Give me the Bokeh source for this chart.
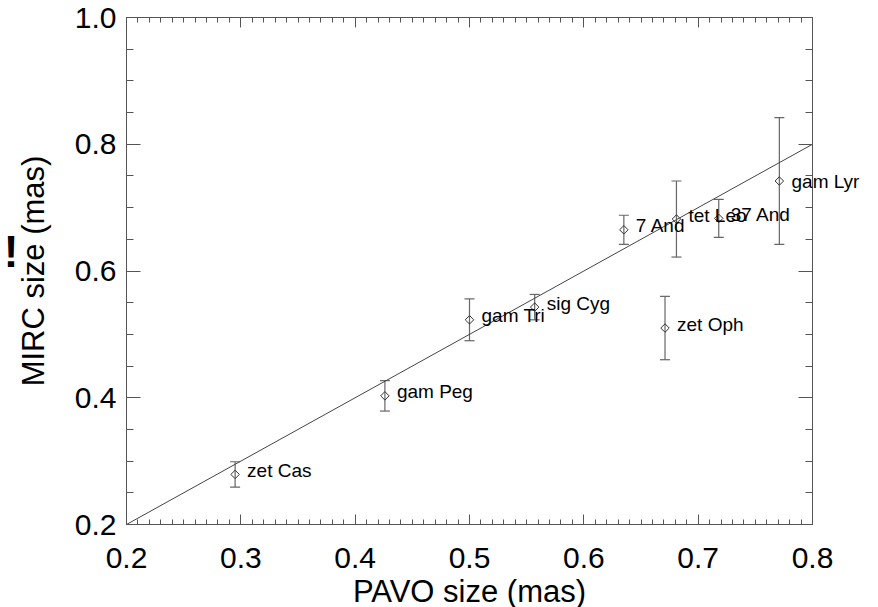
import math
from bokeh.plotting import figure
from bokeh.models import (Range1d, LinearAxis, SingleIntervalTicker, FixedTicker, Whisker, TeeHead,
                          ColumnDataSource, PrintfTickFormatter)
from bokeh.core.properties import value
from bokeh.embed import file_html
from bokeh.resources import INLINE

# ---- data ----
stars = ["zet Cas", "gam Peg", "gam Tri", "sig Cyg", "zet Oph", "7 And", "tet Leo", "37 And", "gam Lyr"]
pavo = [0.295, 0.426, 0.500, 0.557, 0.671, 0.635, 0.681, 0.718, 0.771]
mirc = [0.279, 0.403, 0.523, 0.543, 0.510, 0.665, 0.682, 0.683, 0.742]
mirc_err = [0.020, 0.024, 0.033, 0.020, 0.050, 0.023, 0.060, 0.030, 0.100]
line_x = [0.2, 0.8]
line_y = [0.2, 0.8]
x_range = (0.2, 0.8)
y_range = (0.2, 1.0)
x_label = "PAVO size (mas)"
y_label = "MIRC size (mas)"
stray_mark = "!"          # stray glyph cut off at the left edge of the source crop
stray_mark_y = 0.63

FONT = "Liberation Sans"
AX = "#555555"

inside = [i for i in range(len(stars)) if stars[i] != "gam Lyr"]
src = ColumnDataSource(dict(
    x=pavo, y=mirc,
    lo=[m - e for m, e in zip(mirc, mirc_err)],
    hi=[m + e for m, e in zip(mirc, mirc_err)],
))
lab_src = ColumnDataSource(dict(
    x=[pavo[i] for i in inside], y=[mirc[i] for i in inside], name=[stars[i] for i in inside],
))

p = figure(width=863, height=620, output_backend="svg", toolbar_location=None,
           x_range=Range1d(*x_range), y_range=Range1d(*y_range),
           x_axis_location=None, y_axis_location=None,
           min_border_left=123, min_border_right=51, min_border_top=17, min_border_bottom=96)
p.xgrid.visible = False
p.ygrid.visible = False
p.outline_line_color = AX
p.background_fill_color = "white"
p.border_fill_color = "white"


def make_axis(kind, labels):
    if kind == "x":
        t = SingleIntervalTicker(interval=0.1, num_minor_ticks=10)
        ax = LinearAxis(ticker=t, major_tick_in=10, minor_tick_in=5)
    else:
        t = SingleIntervalTicker(interval=0.2, num_minor_ticks=4)
        ax = LinearAxis(ticker=t, major_tick_in=14, minor_tick_in=7)
    ax.major_tick_out = 0
    ax.minor_tick_out = 0
    ax.axis_line_color = AX
    ax.major_tick_line_color = AX
    ax.minor_tick_line_color = AX
    ax.formatter = PrintfTickFormatter(format="%.1f")
    if labels:
        ax.major_label_text_font = FONT
        ax.major_label_text_font_size = "30px"
        ax.major_label_text_color = "black"
        ax.axis_label_text_font = FONT
        ax.axis_label_text_font_size = "31px"
        ax.axis_label_text_font_style = "normal"
        ax.axis_label_text_color = "black"
    else:
        ax.major_label_text_font_size = "0px"
        ax.major_label_standoff = 0
    return ax

bx = make_axis("x", True)
bx.major_label_standoff = 23
bx.axis_label = x_label
bx.axis_label_standoff = 3
bx.axis_label_text_baseline = "middle"
p.add_layout(bx, "below")

ly = make_axis("y", True)
ly.major_label_standoff = 10
ly.axis_label = y_label
ly.axis_label_standoff = 21
p.add_layout(ly, "left")

# stray mark at the far left, carried by an outer left axis at its data height
sx = LinearAxis(ticker=FixedTicker(ticks=[stray_mark_y], minor_ticks=[]),
                major_label_overrides={stray_mark_y: stray_mark},
                axis_line_color=None, major_tick_line_color=None, minor_tick_line_color=None,
                major_tick_in=0, major_tick_out=0, minor_tick_in=0, minor_tick_out=0,
                major_label_standoff=-6, major_label_text_font=FONT,
                major_label_text_font_style="bold",
                major_label_text_font_size="44px", major_label_text_color="black")
p.add_layout(sx, "left")

p.add_layout(make_axis("x", False), "above")
p.add_layout(make_axis("y", False), "right")

# extra right axis carrying the "gam Lyr" name at its data height
ry = LinearAxis(ticker=FixedTicker(ticks=[mirc[-1]], minor_ticks=[]),
                major_label_overrides={mirc[-1]: stars[-1]},
                axis_line_color=None, major_tick_line_color=None, minor_tick_line_color=None,
                major_tick_in=0, major_tick_out=0, minor_tick_in=0, minor_tick_out=0,
                major_label_standoff=-21, major_label_text_font=FONT,
                major_label_text_font_size="19px", major_label_text_color="black")
p.add_layout(ry, "right")

# one-to-one line
p.line(line_x, line_y, line_color="#444444", line_width=1)

# error bars
wh = Whisker(source=src, base="x", lower="lo", upper="hi", dimension="height",
             line_color="#666666", line_width=1.2,
             upper_head=TeeHead(size=10, line_color="#666666", line_width=1.2),
             lower_head=TeeHead(size=10, line_color="#666666", line_width=1.2))
p.add_layout(wh)

# markers (open diamonds)
p.scatter("x", "y", source=src, marker="square", angle=math.pi / 4, size=6,
          fill_color=None, line_color="#333333", line_width=1)

# star names
p.text("x", "y", text="name", source=lab_src, x_offset=12, y_offset=-4,
       text_font=value(FONT), text_font_size="19px", text_baseline="middle",
       text_align="left", text_color="black")

open("out.html", "w").write(file_html(p, INLINE))
